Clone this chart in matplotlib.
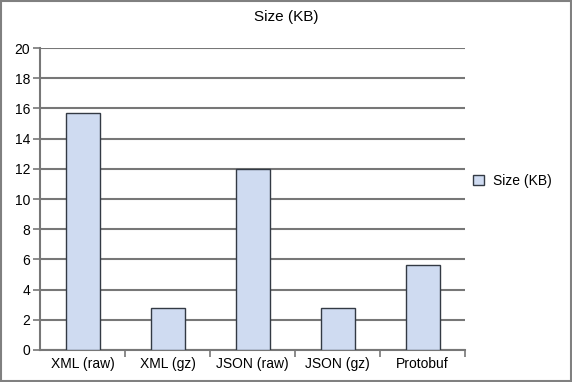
import numpy as np
import matplotlib
matplotlib.use("Agg")
import matplotlib.pyplot as plt
from matplotlib.patches import Rectangle

plt.rcParams['font.family'] = ['Liberation Sans', 'DejaVu Sans']

# data
categories = ['XML (raw)', 'XML (gz)', 'JSON (raw)', 'JSON (gz)', 'Protobuf']
size_kb = [15.7, 2.8, 12.0, 2.8, 5.6]
series_name = 'Size (KB)'
y_ticks = [0, 2, 4, 6, 8, 10, 12, 14, 16, 18, 20]

bar_color = '#cfdbf1'
edge_color = '#333a44'
grid_color = '#777777'

fig = plt.figure(figsize=(5.72, 3.82), dpi=100)
ax = fig.add_axes([0.07, 0.084, 0.743, 0.79])

x = np.arange(len(categories))
ax.bar(x, size_kb, width=0.4, color=bar_color, edgecolor=edge_color,
       linewidth=1.0, label=series_name, zorder=3)

ax.set_xlim(-0.5, len(categories) - 0.5)
ax.set_ylim(0, 20)
ax.set_yticks(y_ticks)
ax.yaxis.grid(True, color=grid_color, linewidth=1.5, zorder=0)
ax.set_axisbelow(True)

ax.set_xticks(x)
ax.set_xticklabels(categories)
ax.set_xticks(np.arange(len(categories)) + 0.5, minor=True)
ax.tick_params(axis='x', which='major', length=0, labelsize=10, pad=5)
ax.tick_params(axis='x', which='minor', length=5, width=1.2, color=grid_color)
ax.tick_params(axis='y', length=5, width=1.2, color=grid_color, labelsize=10, pad=2)

for side in ['top', 'right']:
    ax.spines[side].set_visible(False)
for side in ['left', 'bottom']:
    ax.spines[side].set_color(grid_color)
    ax.spines[side].set_linewidth(1.5)

fig.suptitle('Size (KB)', x=0.5, y=0.975, fontsize=11)

ax.legend(loc='center left', bbox_to_anchor=(0.99, 0.56), frameon=False,
          fontsize=10, handlelength=0.8, handleheight=0.8, handletextpad=0.6)

fig.patches.append(Rectangle((0.002, 0.003), 0.996, 0.994, transform=fig.transFigure,
                             fill=False, edgecolor='#808080', linewidth=1.5))

fig.savefig('out.png', dpi=100)
